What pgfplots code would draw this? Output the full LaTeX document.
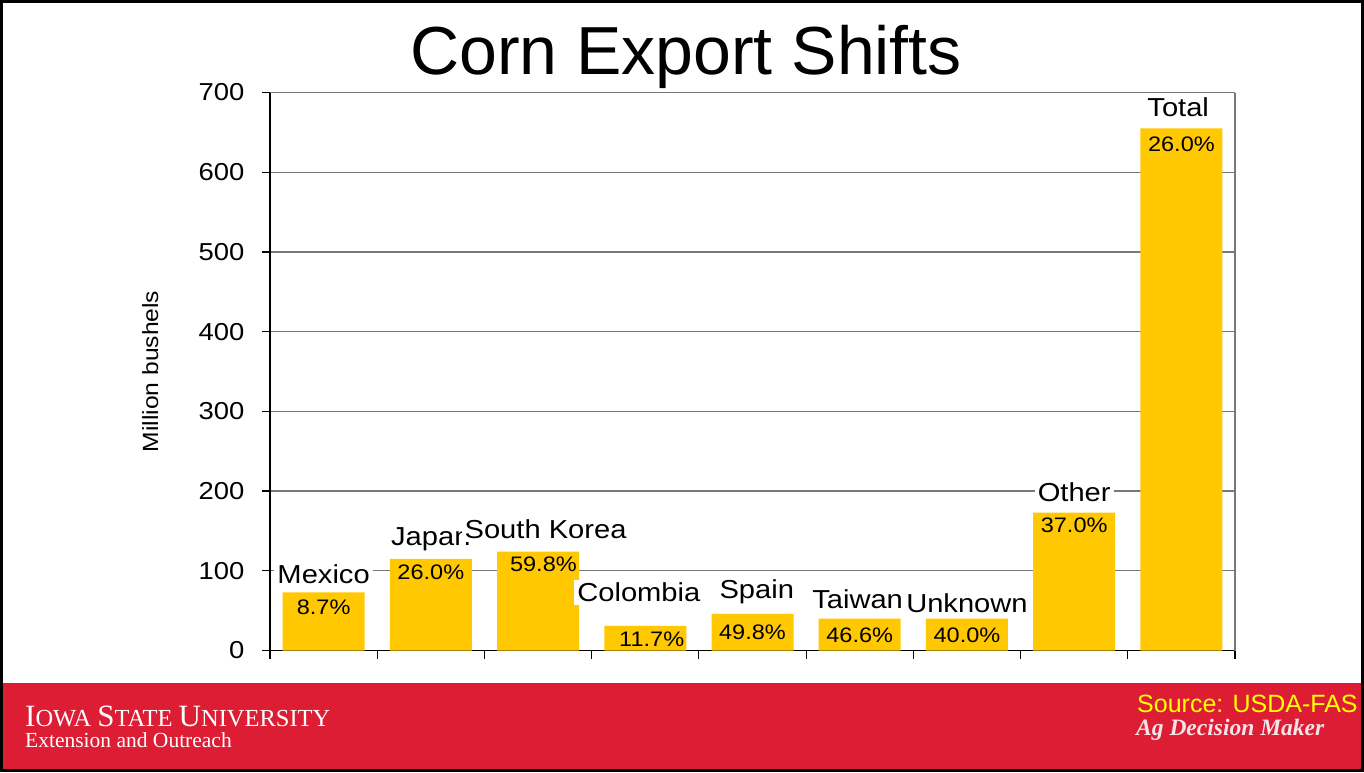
\documentclass[border=0pt]{standalone}
\usepackage{fontspec}
\setmainfont{Liberation Sans}
\newfontfamily\chartfont[FakeStretch=1.12]{Liberation Sans}
\newfontfamily\serifs{Liberation Serif}
\usepackage{pgfplots}
\usepackage{pgfplotstable}
\pgfplotsset{compat=1.18}

\definecolor{bargold}{RGB}{255,200,0}
\definecolor{isured}{RGB}{221,29,52}
\definecolor{gridgray}{RGB}{120,120,120}
\definecolor{srcyellow}{RGB}{255,255,0}
\definecolor{agwhite}{RGB}{246,228,232}

\newcommand\BC{\fontsize{31}{30}\selectfont}
\newcommand\SC{\fontsize{24.5}{24}\selectfont}

% x: category, y: million bushels, lx/ly: name label position, px/py: percent label position
\pgfplotstableread[col sep=comma]{
x,y,lx,ly,px,py,name,pct
0,73,0,96,0,54,Mexico,8.7\%
1,115,1,139,1,98,Japan,26.0\%
2,124,2.07,152,2.05,108,South Korea,59.8\%
3,31,2.94,73,3.06,14,Colombia,11.7\%
4,46,4.04,74,4,23,Spain,49.8\%
5,40,4.98,64,5,19,Taiwan,46.6\%
6,40,6,59,6,19,Unknown,40.0\%
7,173,7,198,7,157,Other,37.0\%
8,655,7.97,681,8,635,Total,26.0\%
}\datatable

\begin{document}
\begin{tikzpicture}
\useasboundingbox (0pt,0pt) rectangle (1364pt,772pt);
\fill[white] (0pt,0pt) rectangle (1364pt,772pt);
\fill[isured] (0pt,0pt) rectangle (1364pt,89pt);
\node[anchor=base, font=\fontsize{68}{68}\selectfont, inner sep=0pt] at (686pt,697pt) {Corn Export Shifts};

\begin{axis}[
  at={(270pt,121.5pt)}, anchor=south west,
  scale only axis, width=965pt, height=558pt,
  xmin=-0.5, xmax=8.5, ymin=0, ymax=700,
  xtick={-0.5,0.5,1.5,2.5,3.5,4.5,5.5,6.5,7.5,8.5}, xticklabels={},
  ytick={0,100,200,300,400,500,600,700},
  axis x line*=bottom, axis y line*=left,
  axis line style={-, black, line width=1.2pt},
  tick align=outside, major tick length=8pt,
  tick style={black, line width=1.2pt},
  ymajorgrids, grid style={gridgray, line width=1.4pt},
  /pgf/number format/assume math mode=true,
  yticklabel style={font=\chartfont\fontsize{24.5}{24.5}\selectfont, text=black, xshift=-14pt},
  ylabel={Million bushels},
  ylabel style={at={(axis description cs:-0.124,0.5)}, anchor=center, font=\chartfont\fontsize{22}{22}\selectfont},
  clip=false,
]
\addplot[ybar, bar width=82pt, fill=bargold, draw=none] table[x=x,y=y]{\datatable};
\draw[gridgray, line width=1.4pt] (rel axis cs:1,0) -- (rel axis cs:1,1);
\addplot[draw=none, mark=none, point meta=explicit symbolic, nodes near coords,
  every node near coord/.append style={anchor=center, text=black, font=\chartfont\fontsize{21}{21}\selectfont}]
  table[x=px,y=py,meta=pct]{\datatable};
\addplot[draw=none, mark=none, point meta=explicit symbolic, nodes near coords,
  every node near coord/.append style={anchor=center, fill=white, text=black, inner sep=3pt, font=\chartfont\fontsize{26}{26}\selectfont}]
  table[x=lx,y=ly,meta=name]{\datatable};
\end{axis}

\node[anchor=base west, text=white, font=\serifs, inner sep=0pt] at (25pt,46pt) {\BC I\SC OWA \BC S\SC TATE \BC U\SC NIVERSITY};
\node[anchor=base west, text=white, font=\serifs\fontsize{21.5}{21.5}\selectfont, inner sep=0pt] at (25pt,25pt) {Extension and Outreach};
\node[anchor=base west, text=srcyellow, font=\fontsize{25}{25}\selectfont, inner sep=0pt] at (1137pt,60pt) {Source: USDA-FAS};
\node[anchor=base west, text=agwhite, font=\serifs\bfseries\itshape\fontsize{23.5}{23.5}\selectfont, inner sep=0pt] at (1136pt,37pt) {Ag Decision Maker};
\draw[black, line width=3pt] (1.5pt,1.5pt) rectangle (1362.5pt,770.5pt);
\end{tikzpicture}
\end{document}
